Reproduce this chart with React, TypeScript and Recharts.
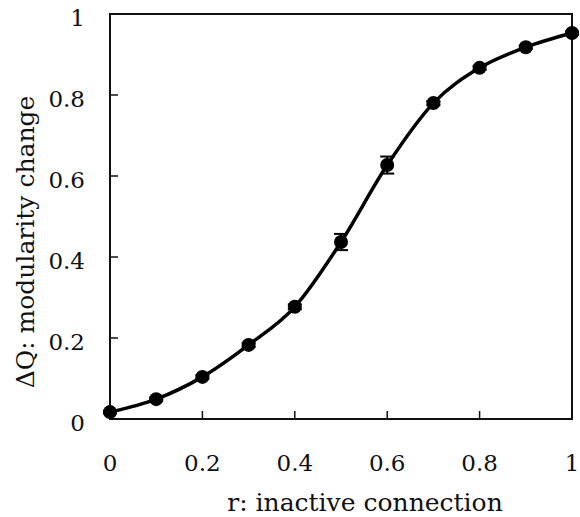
import { LineChart, Line, XAxis, YAxis, ErrorBar, ReferenceArea, Label } from "recharts";

// r: inactive connection
const rValues = [0, 0.1, 0.2, 0.3, 0.4, 0.5, 0.6, 0.7, 0.8, 0.9, 1];
// ΔQ: modularity change
const deltaQ = [0.017, 0.049, 0.104, 0.183, 0.277, 0.437, 0.627, 0.78, 0.867, 0.918, 0.953];
const deltaQErr = [0.003, 0.004, 0.004, 0.005, 0.006, 0.02, 0.021, 0.005, 0.005, 0.004, 0.004];
const xTicks = [0, 0.2, 0.4, 0.6, 0.8, 1];
const yTicks = [0, 0.2, 0.4, 0.6, 0.8, 1];

const data = rValues.map((r, i) => ({ r, dq: deltaQ[i], err: deltaQErr[i] }));

const FONT = "'DejaVu Serif', serif";
const INK = "#111";

const YTitle = () => (
  <text
    x={25}
    y={242}
    transform="rotate(-90 25 242)"
    textAnchor="middle"
    dominantBaseline="central"
    fontFamily={FONT}
    fontSize={25}
    fill={INK}
  >
    ΔQ: modularity change
  </text>
);

const XTitle = () => (
  <text x={365} y={511} textAnchor="middle" fontFamily={FONT} fontSize={25} fill={INK}>
    r: inactive connection
  </text>
);

export default function App() {
  return (
    <div style={{ position: "absolute", left: 0, top: 0 }}>
      <LineChart width={580} height={517} data={data} margin={{ top: 14, right: 8, left: 0, bottom: 0 }}>
        <ReferenceArea x1={0} x2={1} y1={0} y2={1} fill="none" stroke={INK} strokeWidth={2} fillOpacity={0} />
        <XAxis
          dataKey="r"
          type="number"
          domain={[0, 1]}
          ticks={xTicks}
          height={98}
          tickSize={-8}
          tickMargin={44}
          axisLine={{ stroke: INK, strokeWidth: 2 }}
          tickLine={{ stroke: INK, strokeWidth: 1.5 }}
          tick={{ fontSize: 23, fill: INK, fontFamily: FONT }}
        >
          <Label content={<XTitle />} />
        </XAxis>
        <YAxis
          type="number"
          domain={[0, 1]}
          ticks={yTicks}
          width={110}
          tickSize={-8}
          tickMargin={33}
          axisLine={{ stroke: INK, strokeWidth: 2 }}
          tickLine={{ stroke: INK, strokeWidth: 1.5 }}
          tick={{ fontSize: 23, fill: INK, fontFamily: FONT, dy: 4 }}
        >
          <Label content={<YTitle />} />
        </YAxis>
        <Line
          type="monotone"
          dataKey="dq"
          stroke="#000"
          strokeWidth={3.5}
          dot={{ r: 7, fill: "#000", stroke: "#000", strokeWidth: 0 }}
          isAnimationActive={false}
        >
          <ErrorBar dataKey="err" direction="y" width={7} stroke="#000" strokeWidth={2} />
        </Line>
      </LineChart>
    </div>
  );
}
